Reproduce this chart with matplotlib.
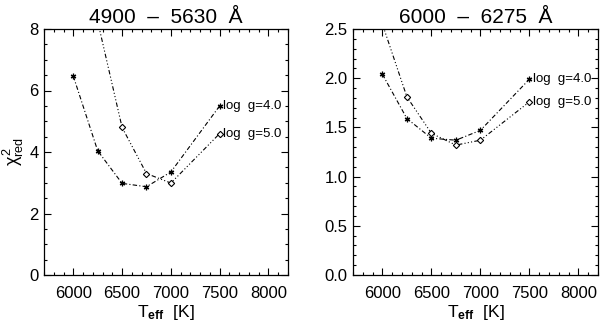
import numpy as np
import matplotlib
matplotlib.use("Agg")
import matplotlib.pyplot as plt
from matplotlib.ticker import MultipleLocator

plt.rcParams['font.family'] = ['Liberation Sans', 'DejaVu Sans']
plt.rcParams['mathtext.fontset'] = 'custom'
plt.rcParams['mathtext.rm'] = 'Liberation Sans'
plt.rcParams['mathtext.it'] = 'Liberation Sans'
plt.rcParams['mathtext.bf'] = 'Liberation Sans:bold'

# Data
teff = [6000, 6250, 6500, 6750, 7000, 7500]
titles = ["4900  \u2013  5630  \u00c5", "6000  \u2013  6275  \u00c5"]
left_g40 = [6.47, 4.04, 2.98, 2.87, 3.35, 5.50]
left_g50 = [np.nan, 8.25, 4.80, 3.30, 2.99, 4.60]
right_g40 = [2.04, 1.59, 1.39, 1.37, 1.47, 1.99]
right_g50 = [2.55, 1.81, 1.44, 1.32, 1.37, 1.76]
labels = ["log  g=4.0", "log  g=5.0"]

panels = [
    dict(rect=[44/600, 48/323, 244/600, 246/323], g40=left_g40, g50=left_g50,
         ylim=(0, 8), major=2, minor=0.5, fmt="{:.0f}"),
    dict(rect=[353/600, 48/323, 245/600, 246/323], g40=right_g40, g50=right_g50,
         ylim=(0, 2.5), major=0.5, minor=0.1, fmt="{:.1f}"),
]

fig = plt.figure(figsize=(6.0, 3.23), dpi=100)
for i, p in enumerate(panels):
    ax = fig.add_axes(p['rect'])
    ax.plot(teff, p['g40'], color='black', lw=0.8, dashes=(4, 2, 1, 2),
            marker=(6, 2, 0), ms=4, mew=0.9, clip_on=True)
    ax.plot(teff, p['g50'], color='black', lw=0.8, dashes=(4, 2, 1, 2, 1, 2, 1, 2),
            marker='D', ms=3.2, mfc='white', mec='black', mew=0.8, clip_on=True)
    ax.set_xlim(5700, 8200)
    ax.set_ylim(*p['ylim'])
    ax.xaxis.set_major_locator(MultipleLocator(500))
    ax.xaxis.set_minor_locator(MultipleLocator(100))
    ax.yaxis.set_major_locator(MultipleLocator(p['major']))
    ax.yaxis.set_minor_locator(MultipleLocator(p['minor']))
    ax.set_xticks([6000, 6500, 7000, 7500, 8000])
    ax.tick_params(which='both', direction='in', top=True, right=True, width=0.8)
    ax.tick_params(which='major', length=5)
    ax.tick_params(which='minor', length=2.5)
    ax.tick_params(axis='x', which='major', labelsize=12, pad=8)
    ax.tick_params(axis='y', which='major', labelsize=12, pad=4)
    ax.set_yticklabels([p['fmt'].format(v) for v in ax.get_yticks()])
    for s in ax.spines.values():
        s.set_linewidth(0.9)
    ax.set_title(titles[i], fontsize=15, pad=4)
    ax.set_xlabel(r'T$_{\bf eff}$  [K]', fontsize=12.5, labelpad=1)
    ax.annotate(labels[0], (teff[-1], p['g40'][-1]), xytext=(2.5, 0),
                textcoords='offset points', fontsize=9.5, va='center', ha='left')
    ax.annotate(labels[1], (teff[-1], p['g50'][-1]), xytext=(2.5, 0),
                textcoords='offset points', fontsize=9.5, va='center', ha='left')
    if i == 0:
        ax.set_ylabel(r'$\chi^2_{\rm red}$', fontsize=13, labelpad=2)

fig.savefig("out.png", dpi=100)
